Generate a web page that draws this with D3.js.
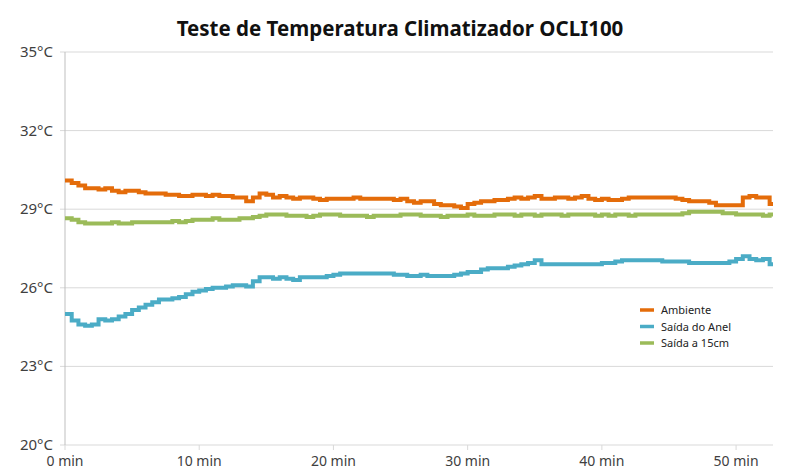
<!DOCTYPE html>
<html>
<head>
<meta charset="utf-8">
<script src="https://cdn.jsdelivr.net/npm/d3@7"></script>
<style>
  body { margin: 0; background: #fff; }
  text { font-family: "Noto Sans", "Open Sans", sans-serif; }
</style>
</head>
<body>
<div id="chart"></div>
<script>
// readings every 0.5 min, from 0 to 52.5 min
const minutes = d3.range(106).map(i => i * 0.5);

const ambiente = [
  30.1, 30.0, 29.9, 29.8, 29.8, 29.75, 29.8, 29.7, 29.65, 29.7,
  29.7, 29.65, 29.6, 29.6, 29.6, 29.55, 29.55, 29.5, 29.5, 29.55,
  29.55, 29.5, 29.55, 29.5, 29.5, 29.45, 29.45, 29.3, 29.45, 29.6,
  29.55, 29.45, 29.5, 29.45, 29.4, 29.45, 29.45, 29.4, 29.35, 29.4,
  29.4, 29.4, 29.4, 29.45, 29.4, 29.4, 29.4, 29.4, 29.4, 29.35,
  29.4, 29.3, 29.25, 29.3, 29.3, 29.2, 29.15, 29.15, 29.1, 29.05,
  29.2, 29.25, 29.3, 29.3, 29.35, 29.35, 29.4, 29.45, 29.4, 29.45,
  29.5, 29.4, 29.4, 29.45, 29.45, 29.4, 29.45, 29.5, 29.4, 29.35,
  29.4, 29.35, 29.35, 29.4, 29.45, 29.45, 29.45, 29.45, 29.45, 29.45,
  29.45, 29.4, 29.35, 29.3, 29.3, 29.3, 29.25, 29.15, 29.15, 29.15,
  29.15, 29.45, 29.5, 29.45, 29.45, 29.2
];

const saidaAnel = [
  25.0, 24.75, 24.6, 24.55, 24.6, 24.8, 24.75, 24.8, 24.9, 25.0,
  25.15, 25.25, 25.35, 25.45, 25.55, 25.55, 25.6, 25.65, 25.75, 25.85,
  25.9, 25.95, 26.0, 26.0, 26.05, 26.1, 26.1, 26.05, 26.25, 26.4,
  26.4, 26.35, 26.4, 26.35, 26.3, 26.4, 26.4, 26.4, 26.4, 26.45,
  26.5, 26.55, 26.55, 26.55, 26.55, 26.55, 26.55, 26.55, 26.55, 26.5,
  26.5, 26.45, 26.45, 26.5, 26.45, 26.45, 26.45, 26.45, 26.5, 26.55,
  26.6, 26.6, 26.7, 26.75, 26.75, 26.75, 26.8, 26.85, 26.9, 26.95,
  27.05, 26.9, 26.9, 26.9, 26.9, 26.9, 26.9, 26.9, 26.9, 26.9,
  26.95, 26.95, 27.0, 27.05, 27.05, 27.05, 27.05, 27.05, 27.05, 27.0,
  27.0, 27.0, 27.0, 26.95, 26.95, 26.95, 26.95, 26.95, 26.95, 27.0,
  27.1, 27.2, 27.1, 27.05, 27.1, 26.9
];

const saida15cm = [
  28.65, 28.6, 28.5, 28.45, 28.45, 28.45, 28.45, 28.5, 28.45, 28.45,
  28.5, 28.5, 28.5, 28.5, 28.5, 28.5, 28.55, 28.5, 28.55, 28.6,
  28.6, 28.6, 28.65, 28.6, 28.6, 28.6, 28.65, 28.65, 28.7, 28.75,
  28.8, 28.8, 28.8, 28.75, 28.75, 28.75, 28.7, 28.75, 28.8, 28.8,
  28.8, 28.75, 28.75, 28.75, 28.75, 28.7, 28.75, 28.75, 28.75, 28.75,
  28.8, 28.8, 28.8, 28.75, 28.75, 28.75, 28.7, 28.75, 28.75, 28.75,
  28.8, 28.75, 28.75, 28.75, 28.8, 28.8, 28.8, 28.75, 28.8, 28.8,
  28.75, 28.8, 28.8, 28.8, 28.75, 28.8, 28.8, 28.8, 28.8, 28.75,
  28.8, 28.75, 28.8, 28.8, 28.75, 28.8, 28.8, 28.8, 28.8, 28.8,
  28.8, 28.8, 28.85, 28.9, 28.9, 28.9, 28.9, 28.9, 28.85, 28.85,
  28.8, 28.8, 28.8, 28.8, 28.75, 28.8
];

const yTicks = [20, 23, 26, 29, 32, 35];
const xTicks = [0, 10, 20, 30, 40, 50];

const series = [
  {name: "Ambiente", values: ambiente, color: "#E46C0A"},
  {name: "Saída do Anel", values: saidaAnel, color: "#4BACC6"},
  {name: "Saída a 15cm", values: saida15cm, color: "#9BBB59"}
];

const width = 800, height = 473;
const margin = {top: 52, right: 27, bottom: 28, left: 65};

const svg = d3.select("#chart").append("svg")
    .attr("width", width)
    .attr("height", height);

const xMax = 52.75;
const x = d3.scaleLinear().domain([0, xMax]).range([margin.left, width - margin.right]);
const y = d3.scaleLinear().domain([20, 35]).range([height - margin.bottom, margin.top]);

// title
svg.append("text")
    .attr("x", 400)
    .attr("y", 36)
    .attr("text-anchor", "middle")
    .attr("font-size", "20.5px")
    .attr("font-weight", "bold")
    .attr("fill", "#111")
    .text("Teste de Temperatura Climatizador OCLI100");

// horizontal grid
svg.append("g")
    .selectAll("line")
    .data(yTicks)
    .enter().append("line")
    .attr("x1", margin.left - 5)
    .attr("x2", width - margin.right)
    .attr("y1", d => y(d))
    .attr("y2", d => y(d))
    .attr("stroke", "#d9d9d9")
    .attr("stroke-width", 1);

// y axis line
svg.append("line")
    .attr("x1", margin.left).attr("x2", margin.left)
    .attr("y1", y(35)).attr("y2", y(20))
    .attr("stroke", "#bfbfbf");

// y labels
svg.append("g")
    .selectAll("text")
    .data(yTicks)
    .enter().append("text")
    .attr("x", margin.left - 12)
    .attr("y", d => y(d) + 5)
    .attr("text-anchor", "end")
    .attr("font-size", "15px")
    .attr("fill", "#404040")
    .text(d => d + "°C");

// x ticks and labels
const xg = svg.append("g");
xg.selectAll("line")
    .data(xTicks)
    .enter().append("line")
    .attr("x1", d => x(d)).attr("x2", d => x(d))
    .attr("y1", y(20)).attr("y2", y(20) + 5)
    .attr("stroke", "#d9d9d9");
xg.selectAll("text")
    .data(xTicks)
    .enter().append("text")
    .attr("x", d => x(d))
    .attr("y", y(20) + 21)
    .attr("text-anchor", "middle")
    .attr("font-size", "14px")
    .attr("fill", "#404040")
    .text(d => d + " min");

// lines
const line = d3.line()
    .x(d => x(d[0]))
    .y(d => y(d[1]))
    .curve(d3.curveStepAfter);

series.forEach(s => {
    const pts = minutes.map((m, i) => [m, s.values[i]]);
    pts.push([xMax, s.values[s.values.length - 1]]);
    svg.append("path")
        .datum(pts)
        .attr("d", line)
        .attr("fill", "none")
        .attr("stroke", s.color)
        .attr("stroke-width", 4);
});

// legend
const legend = svg.append("g").attr("transform", "translate(640, 310)");
series.forEach((s, i) => {
    legend.append("line")
        .attr("x1", 0).attr("x2", 14)
        .attr("y1", i * 16.5).attr("y2", i * 16.5)
        .attr("stroke", s.color)
        .attr("stroke-width", 3.5);
    legend.append("text")
        .attr("x", 21)
        .attr("y", i * 16.5 + 4)
        .attr("font-size", "11px")
        .attr("fill", "#222")
        .text(s.name);
});
</script>
</body>
</html>
